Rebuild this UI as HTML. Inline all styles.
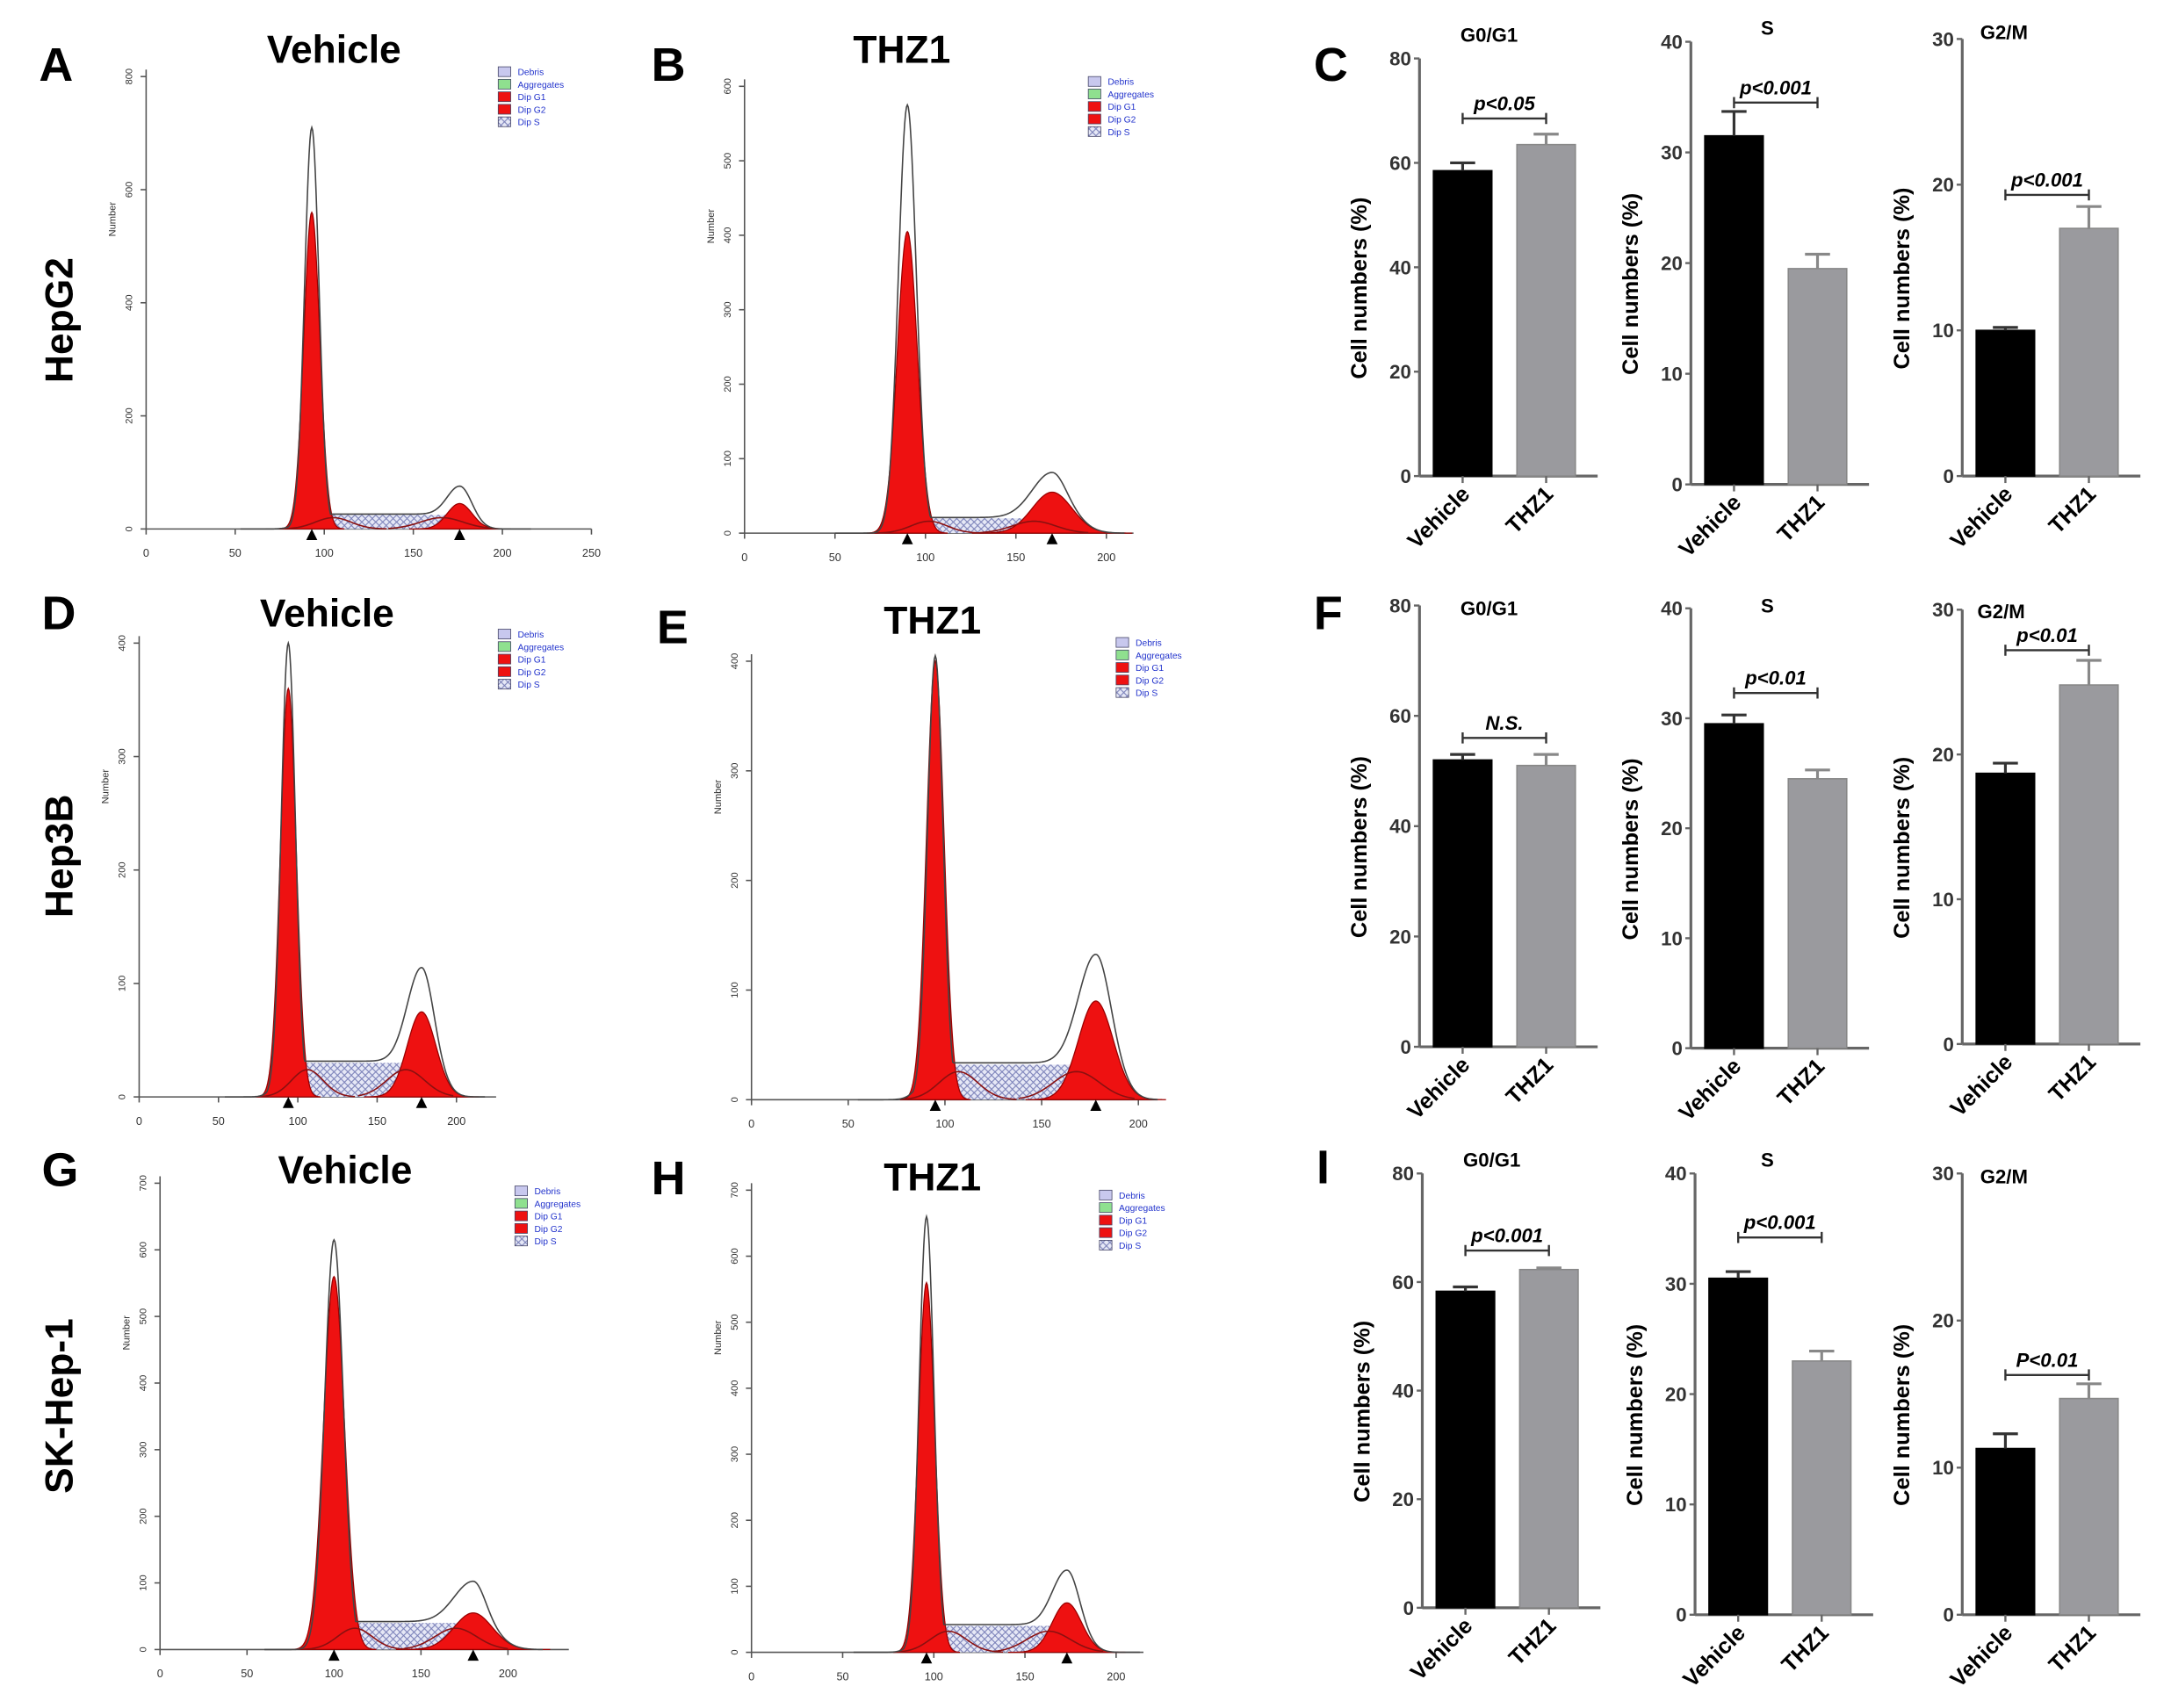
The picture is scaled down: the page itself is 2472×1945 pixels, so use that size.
<!DOCTYPE html>
<html><head><meta charset="utf-8">
<style>
html,body{margin:0;padding:0;background:#fff;}
svg{display:block;font-family:"Liberation Sans",Arial,sans-serif;}
</style></head>
<body>
<svg id="fig" width="2472" height="1945" viewBox="0 0 1560 1227" preserveAspectRatio="none" xmlns="http://www.w3.org/2000/svg">
<defs>
<pattern id="hatch" width="5" height="5" patternUnits="userSpaceOnUse">
<rect width="5" height="5" fill="#e6e8f6"/>
<path d="M0,5 L5,0 M0,0 L5,5" stroke="#7a80b8" stroke-width="0.7"/>
</pattern>
</defs>
<g id="labels" font-weight="bold" font-size="34">
<text x="28" y="58">A</text>
<text x="468" y="58">B</text>
<text x="944" y="58">C</text>
<text x="30" y="452">D</text>
<text x="472" y="462">E</text>
<text x="944" y="452">F</text>
<text x="30" y="852">G</text>
<text x="468" y="858">H</text>
<text x="946" y="850">I</text>
</g>
<g font-weight="bold" font-size="28">
<text transform="translate(52,230) rotate(-90)" text-anchor="middle">HepG2</text>
<text transform="translate(52,615) rotate(-90)" text-anchor="middle">Hep3B</text>
<text transform="translate(52,1010) rotate(-90)" text-anchor="middle">SK-Hep-1</text>
</g>
</svg>
<script>
// ---------- Histogram data (channel units / counts) ----------
const histTitles = ["Vehicle","THZ1","Vehicle","THZ1","Vehicle","THZ1"];
const histYMax = [800,600,400,400,700,700];
const histYStep = [200,100,100,100,100,100];
const histXTicks = [0,50,100,150,200,250];
const g1Mean = [93,90,94,95,100,96];
const g1Height = [560,405,360,400,560,560];
const g1Sd = [4.5,5.5,5,4.5,6,4.5];
const g2Mean = [176,170,178,178,180,173];
const g2Height = [45,55,75,90,55,75];
const g2Sd = [7,11,9,9,11,8];
const sLevel = [25,20,30,32,40,40];
const peakOutline = [710,575,400,405,615,660];
// panel geometry (layout, not data)
const histGeo = [
 {x0:105,px50:64,base:380,top:55,tx:240,ty:45,lx:358,ly:48,maxX:250},
 {x0:535,px50:65,base:383,top:62,tx:648,ty:45,lx:782,ly:55,maxX:215},
 {x0:100,px50:57,base:788,top:462,tx:235,ty:450,lx:358,ly:452,maxX:225},
 {x0:540,px50:69.5,base:790,top:475,tx:670,ty:455,lx:802,ly:458,maxX:210},
 {x0:115,px50:62.5,base:1185,top:850,tx:248,ty:850,lx:370,ly:852,maxX:235},
 {x0:540,px50:65.5,base:1187,top:855,tx:670,ty:855,lx:790,ly:855,maxX:215}
];
// ---------- Bar chart data ----------
const barCategories = ["Vehicle","THZ1"];
const barTitles = ["G0/G1","S","G2/M","G0/G1","S","G2/M","G0/G1","S","G2/M"];
const barYMax = [80,40,30,80,40,30,80,40,30];
const barYStep = [20,10,10,20,10,10,20,10,10];
const vehicleVals = [58.5,31.5,10,52,29.5,18.7,58.3,30.5,11.3];
const vehicleErr = [1.5,2.2,0.2,1,0.8,0.7,0.8,0.6,1];
const thz1Vals = [63.5,19.5,17,51,24.5,24.8,62.3,23,14.7];
const thz1Err = [2,1.3,1.5,2,0.8,1.7,0.3,0.9,1];
const sigBracket = [68.5,34.5,19.3,56,32.3,27.2,65.8,34.2,16.3];
const sigText = ["p<0.05","p<0.001","p<0.001","N.S.","p<0.01","p<0.01","p<0.001","p<0.001","P<0.01"];
const barGeo = [
 {ax:1020,top:42,bot:342,tx:1070,ty:30},
 {ax:1215,top:30,bot:348,tx:1270,ty:25},
 {ax:1410,top:28,bot:342,tx:1440,ty:28},
 {ax:1020,top:435,bot:752,tx:1070,ty:442},
 {ax:1215,top:437,bot:753,tx:1270,ty:440},
 {ax:1410,top:438,bot:750,tx:1438,ty:444},
 {ax:1022,top:843,bot:1155,tx:1072,ty:838},
 {ax:1218,top:843,bot:1160,tx:1270,ty:838},
 {ax:1410,top:843,bot:1160,tx:1440,ty:850}
];

const NS="http://www.w3.org/2000/svg";
const svg=document.getElementById('fig');
function mk(tag,attrs,parent){const e=document.createElementNS(NS,tag);for(const k in attrs)e.setAttribute(k,attrs[k]);(parent||svg).appendChild(e);return e;}
function gauss(x,m,h,s){return h*Math.exp(-0.5*((x-m)/s)*((x-m)/s));}

for(let i=0;i<6;i++){
  const G=histGeo[i];
  const g=mk('g',{});
  
  
  const X=v=>G.x0+v/50*G.px50;
  const Y=v=>G.base-(v/histYMax[i])*(G.base-G.top);
  const ax=mk('line',{x1:G.x0,y1:G.top-5,x2:G.x0,y2:G.base,stroke:'#555','stroke-width':1},g);
  
  const xa=mk('line',{x1:G.x0,y1:G.base,x2:X(G.maxX),y2:G.base,stroke:'#555','stroke-width':1},g);
  
  for(const t of histXTicks){ if(t>G.maxX) continue;
    mk('line',{x1:X(t),y1:G.base,x2:X(t),y2:G.base+4,stroke:'#555'},g);
    const tl=mk('text',{x:X(t),y:G.base+20,'font-size':8,'text-anchor':'middle',fill:'#333'},g);tl.textContent=t;
    
  }
  for(let v=0;v<=histYMax[i];v+=histYStep[i]){
    mk('line',{x1:G.x0-4,y1:Y(v),x2:G.x0,y2:Y(v),stroke:'#555'},g);
    const tl=mk('text',{transform:`translate(${G.x0-10},${Y(v)}) rotate(-90)`,'font-size':7,'text-anchor':'middle',fill:'#333'},g);tl.textContent=v;
    
  }
  const yl=mk('text',{transform:`translate(${G.x0-22},${(G.top+G.base)/2-60}) rotate(-90)`,'font-size':7,'text-anchor':'middle',fill:'#333'},g);yl.textContent='Number';
  
  const s1=g1Mean[i], s2=g2Mean[i];
  const sv=x=>{const a=(x-s1)/(s2-s1);const r=a<0?Math.exp(-0.5*(a/0.08)**2):a>1?Math.exp(-0.5*((a-1)/0.08)**2):1;return sLevel[i]*r;};
  let d=`M${X(s1-20)},${G.base}`;
  for(let x=s1-20;x<=s2+20;x+=1) d+=` L${X(x)},${Y(sv(x))}`;
  d+=` L${X(s2+20)},${G.base} Z`;
  const sp=mk('path',{d:d,fill:'url(#hatch)',stroke:'none'},g);
  
  [[g1Mean[i],g1Height[i],g1Sd[i],'g1-peak'],[g2Mean[i],g2Height[i],g2Sd[i],'g2-peak']].forEach(p=>{
    let dd=`M${X(p[0]-4*p[2])},${G.base}`;
    for(let x=p[0]-4*p[2];x<=p[0]+4*p[2];x+=0.5) dd+=` L${X(x)},${Y(gauss(x,p[0],p[1],p[2]))}`;
    dd+=` L${X(p[0]+4*p[2])},${G.base} Z`;
    const pk=mk('path',{d:dd,fill:'#ee1111',stroke:'#900','stroke-width':0.8},g);
    
    const m=mk('path',{d:`M${X(p[0])-4},${G.base+8} L${X(p[0])+4},${G.base+8} L${X(p[0])},${G.base} Z`,fill:'#000'},g);
    
  });
  // dark red S-phase component curves near baseline
  [[s1+12,sLevel[i]*0.8,10],[s2-10,sLevel[i]*0.8,12]].forEach(p=>{
    let dd='';
    for(let x=p[0]-30;x<=p[0]+30;x+=1) dd+=(dd?' L':'M')+X(x)+','+Y(gauss(x,p[0],p[1],p[2]));
    const c=mk('path',{d:dd,fill:'none',stroke:'#8a1010','stroke-width':1},g);
    
  });
  let od='';
  for(let x=s1-40;x<=Math.min(G.maxX,s2+40);x+=0.5){
    const h=Math.max(gauss(x,g1Mean[i],peakOutline[i],g1Sd[i]*0.9),sv(x)*1.05+gauss(x,g2Mean[i],g2Height[i]*1.1,g2Sd[i]));
    od+=(od?' L':'M')+X(x)+','+Y(h);
  }
  const ol=mk('path',{d:od,fill:'none',stroke:'#444','stroke-width':1},g);
  
  const tt=mk('text',{x:G.tx,y:G.ty,'font-size':28,'font-weight':'bold','text-anchor':'middle'},g);tt.textContent=histTitles[i];
  
  const lg=mk('g',{},g);
  const items=[['Debris','#c8c8ee'],['Aggregates','#8fe08f'],['Dip G1','#ee1111'],['Dip G2','#ee1111'],['Dip S','url(#hatch)']];
  items.forEach((it,k)=>{
    mk('rect',{x:G.lx,y:G.ly+k*9,width:9,height:7,fill:it[1],stroke:'#446','stroke-width':0.5},lg);
    const lt=mk('text',{x:G.lx+14,y:G.ly+k*9+6,'font-size':6.5,fill:'#2233cc'},lg);lt.textContent=it[0];
    
  });
}

for(let i=0;i<9;i++){
  const G=barGeo[i];
  const g=mk('g',{});
  
  
  const Y=v=>G.bot-(v/barYMax[i])*(G.bot-G.top);
  const ya=mk('line',{x1:G.ax,y1:G.top,x2:G.ax,y2:G.bot,stroke:'#666','stroke-width':2},g);
  
  const xa=mk('line',{x1:G.ax,y1:G.bot,x2:G.ax+128,y2:G.bot,stroke:'#666','stroke-width':2},g);
  
  for(let v=0;v<=barYMax[i];v+=barYStep[i]){
    mk('line',{x1:G.ax-4,y1:Y(v),x2:G.ax,y2:Y(v),stroke:'#666','stroke-width':1.5},g);
    const tl=mk('text',{x:G.ax-6,y:Y(v)+5,'font-size':14,'font-weight':'bold','text-anchor':'end',fill:'#333'},g);tl.textContent=v;
    
  }
  const yt=mk('text',{transform:`translate(${G.ax-38},${(G.top+G.bot)/2+15}) rotate(-90)`,'font-size':16,'font-weight':'bold','text-anchor':'middle'},g);yt.textContent='Cell numbers (%)';
  
  const tt=mk('text',{x:G.tx,y:G.ty,'font-size':14,'font-weight':'bold','text-anchor':'middle'},g);tt.textContent=barTitles[i];
  
  const vals=[vehicleVals[i],thz1Vals[i]], errs=[vehicleErr[i],thz1Err[i]];
  const cols=['#000','#9a9a9e'];
  vals.forEach((v,k)=>{
    const cx=G.ax+31+k*60;
    const r=mk('rect',{x:cx-21,y:Y(v),width:42,height:G.bot-Y(v),fill:cols[k],stroke:k?'#888':'#000','stroke-width':1},g);
    
    const e=mk('path',{d:`M${cx},${Y(v)} L${cx},${Y(v+errs[k])} M${cx-9},${Y(v+errs[k])} L${cx+9},${Y(v+errs[k])}`,stroke:k?'#888':'#333','stroke-width':2,fill:'none'},g);
    
    mk('line',{x1:cx,y1:G.bot,x2:cx,y2:G.bot+5,stroke:'#666','stroke-width':1.5},g);
    const cl=mk('text',{transform:`translate(${cx+6},${G.bot+14}) rotate(-45)`,'font-size':16,'font-weight':'bold','text-anchor':'end'},g);cl.textContent=barCategories[k];
    
  });
  const by=Y(sigBracket[i]);
  const br=mk('path',{d:`M${G.ax+31},${by-4} L${G.ax+31},${by+4} M${G.ax+31},${by} L${G.ax+91},${by} M${G.ax+91},${by-4} L${G.ax+91},${by+4}`,stroke:'#333','stroke-width':1.5,fill:'none'},g);
  
  const st=mk('text',{x:G.ax+61,y:by-6,'font-size':14,'font-weight':'bold','font-style':'italic','text-anchor':'middle'},g);st.textContent=sigText[i];
  
}
</script>
</body></html>
